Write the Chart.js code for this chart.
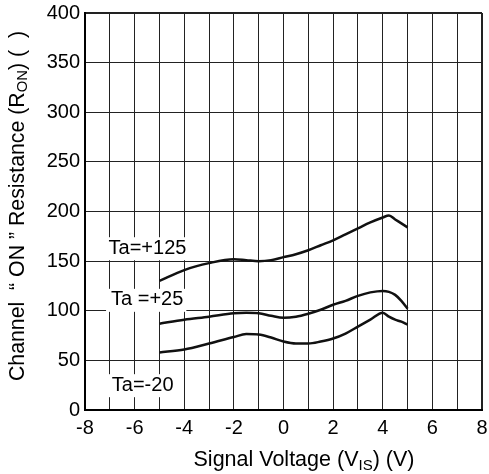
<!DOCTYPE html>
<html>
<head>
<meta charset="utf-8">
<script src="https://cdn.jsdelivr.net/npm/chart.js@4.4.1/dist/chart.umd.min.js"></script>
<style>
  html, body { margin: 0; padding: 0; background: #fff; }
  #grafico { display: block; }
</style>
</head>
<body>
<canvas id="grafico" width="489" height="474"></canvas>
<script>
// valores (V, ohm)
const voltajes = [-5, -4, -3, -2, -1.5, -1, -0.5, 0, 0.5, 1, 1.5, 2, 2.5, 3, 3.5, 4, 4.25, 4.5, 4.75, 5];
const ron125 = [130, 141, 148, 152, 151, 150, 151, 154, 157, 161, 166, 171, 177, 183, 189, 194, 196, 192, 188, 184];
const ron25 = [87, 91, 94, 97.5, 98, 97.5, 95, 93, 94, 97, 101, 106, 110, 115, 118.5, 120, 119, 116, 110, 102];
const ronMenos20 = [58, 61, 67, 73.5, 76.5, 76, 73, 69, 67, 67, 69, 72, 77, 84, 91, 98, 94, 91, 89, 86];

const etiquetas = ['Ta=+125', 'Ta =+25', 'Ta=-20'];
const etiquetasX = [-7.05, -6.95, -6.92];
const etiquetasY = [163, 111, 25];

const xMin = -8, xMax = 8, yMin = 0, yMax = 400;
const fuente = '"Liberation Sans", Arial, sans-serif';

const serie = (valores) => voltajes.map((v, i) => ({ x: v, y: valores[i] }));

const estiloLinea = {
    borderColor: '#111',
    borderWidth: 2.5,
    pointRadius: 0,
    fill: false,
    cubicInterpolationMode: 'monotone'
};

// texto con subindice, para los titulos de ejes
const dibujarPartes = (ctx, partes, tam) => {
    let total = 0;
    partes.forEach(p => {
        ctx.font = (p.sub ? tam * 0.7 : tam) + 'px ' + fuente;
        total += ctx.measureText(p.t).width;
    });
    let x = -total / 2;
    partes.forEach(p => {
        ctx.font = (p.sub ? tam * 0.7 : tam) + 'px ' + fuente;
        ctx.fillText(p.t, x, p.sub ? tam * 0.25 : 0);
        x += ctx.measureText(p.t).width;
    });
};

const titulosEjes = {
    id: 'titulosEjes',
    afterDraw(chart) {
        const ctx = chart.ctx;
        ctx.save();
        ctx.fillStyle = '#000';
        ctx.textBaseline = 'middle';
        ctx.textAlign = 'left';
        ctx.translate(304, 460);
        dibujarPartes(ctx, [{ t: 'Signal Voltage (V' }, { t: 'IS', sub: true }, { t: ') (V)' }], 21.5);
        ctx.restore();

        ctx.save();
        ctx.fillStyle = '#000';
        ctx.textBaseline = 'middle';
        ctx.textAlign = 'left';
        ctx.translate(18, 206);
        ctx.rotate(-Math.PI / 2);
        dibujarPartes(ctx, [{ t: 'Channel  \u201C ON \u201D Resistance (R' }, { t: 'ON', sub: true }, { t: ') (  )' }], 21.3);
        ctx.restore();
    }
};

const etiquetasCurvas = {
    id: 'etiquetasCurvas',
    beforeDatasetsDraw(chart) {
        const ctx = chart.ctx;
        const { x, y } = chart.scales;
        ctx.save();
        ctx.font = '20px ' + fuente;
        ctx.textBaseline = 'middle';
        ctx.textAlign = 'left';
        etiquetas.forEach((txt, i) => {
            const px = x.getPixelForValue(etiquetasX[i]);
            const py = y.getPixelForValue(etiquetasY[i]);
            const ancho = ctx.measureText(txt).width;
            ctx.fillStyle = '#fff';
            ctx.fillRect(px - 5, py - 11, ancho + 8, 23);
            ctx.fillStyle = '#000';
            ctx.fillText(txt, px, py);
        });
        ctx.restore();
    }
};

const grafico = new Chart(document.getElementById('grafico').getContext('2d'), {
    type: 'line',
    data: {
        datasets: [
            { label: 'Ta=+125', data: serie(ron125), ...estiloLinea },
            { label: 'Ta=+25', data: serie(ron25), ...estiloLinea },
            { label: 'Ta=-20', data: serie(ronMenos20), ...estiloLinea }
        ]
    },
    options: {
        responsive: false,
        animation: false,
        layout: { padding: { top: 13, right: 7, left: 0, bottom: 0 } },
        plugins: {
            legend: { display: false },
            tooltip: { enabled: false }
        },
        scales: {
            x: {
                type: 'linear',
                min: xMin,
                max: xMax,
                afterFit: (escala) => {
                    escala.height = 64;
                    escala.paddingLeft = 0;
                    escala.paddingRight = 0;
                },
                border: { color: '#000', width: 2 },
                grid: {
                    color: '#222',
                    lineWidth: (c) => (c.tick && c.tick.value === xMax ? 2 : 1),
                    drawTicks: false
                },
                ticks: {
                    stepSize: 1,
                    padding: 6,
                    color: '#000',
                    font: { family: fuente, size: 20 },
                    maxRotation: 0,
                    autoSkip: false,
                    callback: (v) => (v % 2 === 0 ? String(v) : '')
                }
            },
            y: {
                min: yMin,
                max: yMax,
                afterFit: (escala) => {
                    escala.width = 85;
                    escala.paddingTop = 0;
                    escala.paddingBottom = 0;
                },
                border: { color: '#000', width: 2 },
                grid: {
                    color: '#222',
                    lineWidth: (c) => (c.tick && c.tick.value === yMax ? 2 : 1),
                    drawTicks: false
                },
                ticks: {
                    stepSize: 50,
                    padding: 5,
                    color: '#000',
                    font: { family: fuente, size: 20 }
                }
            }
        }
    },
    plugins: [etiquetasCurvas, titulosEjes]
});
</script>
</body>
</html>
